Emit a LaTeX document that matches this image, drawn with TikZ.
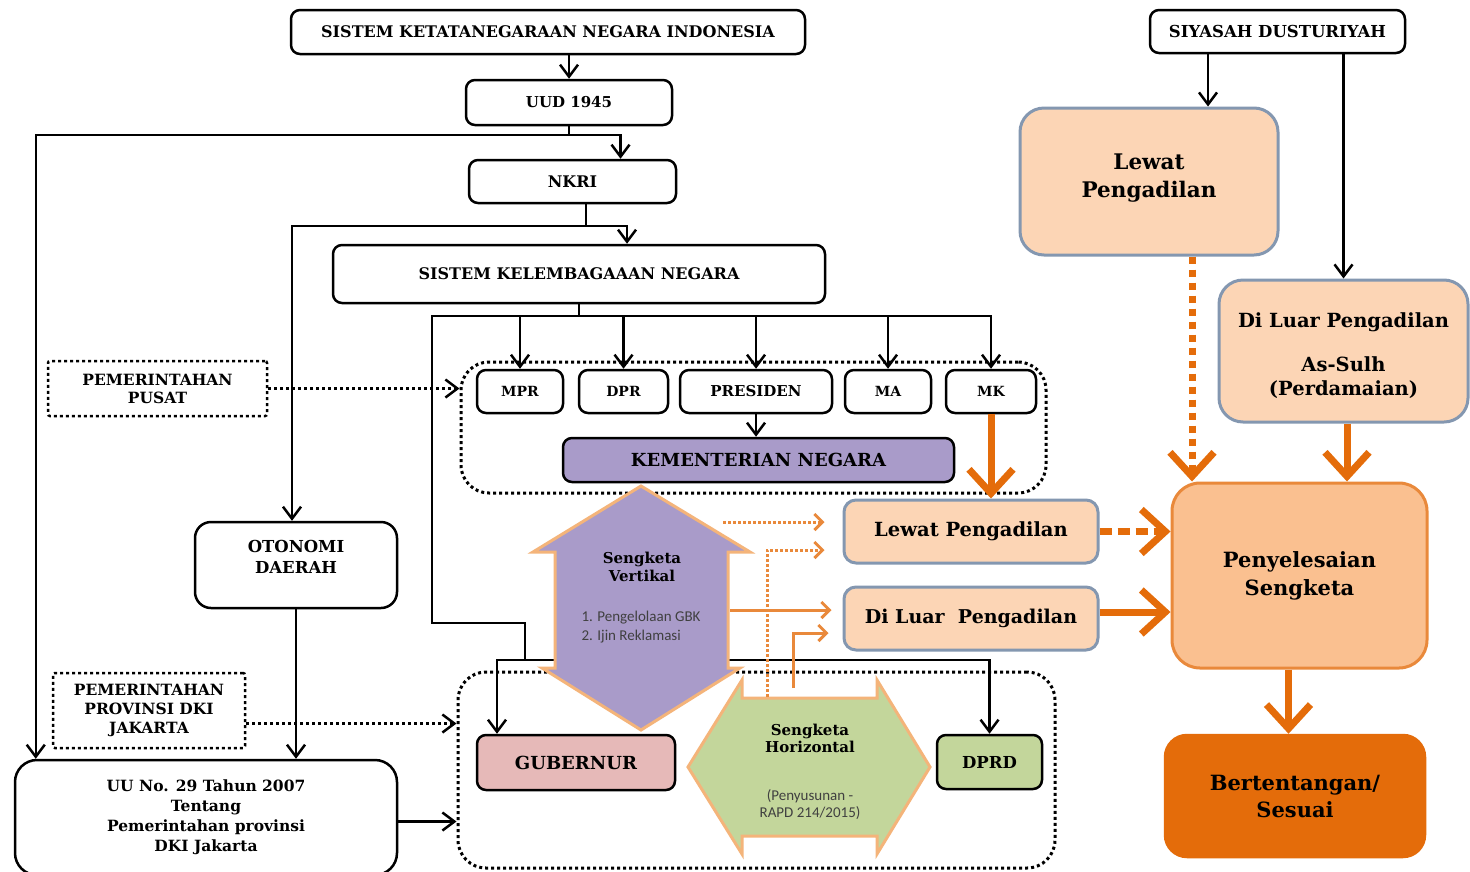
\documentclass[tikz,border=0pt]{standalone}
\usepackage{fontspec}
\setmainfont{DejaVu Serif}
\setsansfont{Carlito}
\usetikzlibrary{arrows.meta}

\definecolor{peach}{HTML}{FCD5B5}
\definecolor{slate}{HTML}{8497B0}
\definecolor{lila}{HTML}{A99BC9}
\definecolor{rosa}{HTML}{E6B9B8}
\definecolor{hijau}{HTML}{C3D69B}
\definecolor{jingga}{HTML}{E46C0A}
\definecolor{jinggamuda}{HTML}{FAC090}
\definecolor{cahaya}{HTML}{F4B47A}
\newcommand{\uk}[2]{\fontsize{#1}{#2}\selectfont}

\begin{document}
\begin{tikzpicture}[x=1pt,y=-1pt,
  kotak/.style={draw,line width=2.5pt,rounded corners=9pt,align=center,inner sep=0pt,fill=white},
  titik/.style={kotak,dash pattern=on 3pt off 3pt,rounded corners=2pt},
  wadah/.style={draw,line width=3pt,dash pattern=on 3pt off 3pt,rounded corners=28pt,inner sep=0pt},
  pilihan/.style={kotak,draw=slate,fill=peach,line width=3pt,rounded corners=12pt},
  garis/.style={line width=2.5pt},
  panah/.style={garis,-{Straight Barb[length=12pt,width=18pt]}},
  panahtitik/.style={panah,dash pattern=on 3pt off 3pt},
  oranye/.style={draw=jingga,line width=7pt,-{Straight Barb[length=24pt,width=44pt]}},
  oranyeputus/.style={oranye,dash pattern=on 7pt off 6pt},
  tipis/.style={draw=jingga!80,line width=3pt,-{Straight Barb[length=8pt,width=16pt]}},
  tipistitik/.style={tipis,dash pattern=on 3pt off 2pt}]

\path[use as bounding box,fill=white] (0,0) rectangle (1470,871);

\node[wadah,minimum width=585pt,minimum height=131pt] (pusatbox) at (753.5,427.5) {};
\node[wadah,minimum width=597pt,minimum height=196pt] (daerahbox) at (756.5,770) {};

\node[kotak,minimum width=514pt,minimum height=44pt,font=\bfseries\uk{16}{19}] (ksn) at (548,32) {SISTEM KETATANEGARAAN NEGARA INDONESIA};
\node[kotak,minimum width=206pt,minimum height=45pt,font=\bfseries\uk{15}{18}] (uud) at (569,102.5) {UUD 1945};
\node[kotak,minimum width=207pt,minimum height=43pt,font=\bfseries\uk{16}{19}] (nkri) at (572.5,181.5) {NKRI};
\node[kotak,minimum width=492pt,minimum height=58pt,font=\bfseries\uk{16}{19}] (skn) at (579,274) {SISTEM KELEMBAGAAAN NEGARA};

\node[kotak,minimum width=86pt,minimum height=43pt,font=\bfseries\uk{14}{17}] (mpr) at (520,391.5) {MPR};
\node[kotak,minimum width=89pt,minimum height=43pt,font=\bfseries\uk{14}{17}] (dpr) at (623.5,391.5) {DPR};
\node[kotak,minimum width=152pt,minimum height=43pt,font=\bfseries\uk{15}{18}] (pres) at (756,391.5) {PRESIDEN};
\node[kotak,minimum width=86pt,minimum height=43pt,font=\bfseries\uk{14}{17}] (ma) at (888,391.5) {MA};
\node[kotak,minimum width=90pt,minimum height=43pt,font=\bfseries\uk{14}{17}] (mk) at (991,391.5) {MK};
\node[kotak,fill=lila,minimum width=391pt,minimum height=44pt,font=\bfseries\uk{18}{21}] (kem) at (758.5,460) {KEMENTERIAN NEGARA};

\node[titik,minimum width=219pt,minimum height=55pt,font=\bfseries\uk{15.5}{18}] (pempusat) at (157.5,388.5) {PEMERINTAHAN\\PUSAT};
\node[kotak,minimum width=202pt,minimum height=86pt,rounded corners=16pt,font=\bfseries\uk{16.5}{21},text depth=16pt] (otda) at (296,565) {OTONOMI\\DAERAH};
\node[titik,minimum width=192pt,minimum height=75pt,font=\bfseries\uk{15.5}{19}] (pemprov) at (149,710.5) {PEMERINTAHAN\\PROVINSI DKI\\JAKARTA};
\node[kotak,minimum width=382pt,minimum height=115pt,rounded corners=22pt,font=\bfseries\uk{15.5}{20}] (uu) at (206,817.5) {UU No. 29 Tahun 2007\\Tentang\\Pemerintahan provinsi\\DKI Jakarta};

\node[kotak,fill=rosa,minimum width=198pt,minimum height=55pt,font=\bfseries\uk{18}{21}] (gub) at (576,762.5) {GUBERNUR};
\node[kotak,fill=hijau,minimum width=105pt,minimum height=54pt,font=\bfseries\uk{16.5}{19}] (dprd) at (989.5,762) {DPRD};

\node[pilihan,minimum width=254pt,minimum height=63pt,font=\bfseries\uk{19.5}{22}] (lewat1) at (971,531.5) {Lewat Pengadilan};
\node[pilihan,minimum width=254pt,minimum height=63pt,font=\bfseries\uk{19}{22}] (luar1) at (971,618.5) {Di Luar~ Pengadilan};

\node[kotak,minimum width=255pt,minimum height=43pt,font=\bfseries\uk{16.5}{19}] (siyasah) at (1277.5,31.5) {SIYASAH DUSTURIYAH};
\node[pilihan,minimum width=258pt,minimum height=147pt,rounded corners=24pt,font=\bfseries\uk{21.5}{28},text depth=12pt] (lewat2) at (1149,181.5) {Lewat\\Pengadilan};
\node[pilihan,minimum width=249pt,minimum height=142pt,rounded corners=24pt,font=\bfseries\uk{19.5}{24},text height=93pt] (luar2) at (1343.5,351) {Di Luar Pengadilan\\[20pt]As-Sulh\\(Perdamaian)};
\node[kotak,draw=jingga!80,fill=jinggamuda,line width=3pt,minimum width=255pt,minimum height=185pt,rounded corners=28pt,font=\bfseries\uk{21}{28}] (penye) at (1299.5,575.5) {Penyelesaian\\Sengketa};
\node[kotak,draw=jingga,fill=jingga,minimum width=260pt,minimum height=122pt,rounded corners=22pt,font=\bfseries\uk{21}{27}] (bert) at (1295,796) {Bertentangan/\\Sesuai};

\coordinate (c1) at (569,135);
\coordinate (c2) at (586,226);
\coordinate (c3) at (579,316);
\coordinate (c4) at (432,623);
\coordinate (c5) at (525,660);

\draw[panah] (ksn.south -| uud.north) -- (uud.north);
\draw[garis] (uud.south) -- (c1);
\draw[panah] (c1) -| ([xshift=48pt]nkri.north);
\draw[panah] (c1) -| ([xshift=22pt]uu.north west);
\draw[garis] (nkri.south -| c2) -- (c2);
\draw[panah] (c2) -| ([xshift=48pt]skn.north);
\draw[panah] (c2) -| ([xshift=-4pt]otda.north);
\draw[garis] (skn.south) -- (c3);
\foreach \n in {mpr,dpr,pres,ma,mk}
  \draw[panah] (c3) -| (\n.north);
\draw[garis] (c3) -| (c4) -| (c5);
\draw[panah] (c5) -| ([xshift=-79pt]gub.north);
\draw[panah] (c5) -| (dprd.north);
\draw[panah] (pres.south) -- (pres.south |- kem.north);
\draw[panahtitik] (pempusat.east) -- (pempusat.east -| pusatbox.west);
\draw[panah] (otda.south) -- (otda.south |- uu.north);
\draw[panahtitik] ([yshift=-13pt]pemprov.east) -- ([yshift=-13pt]pemprov.east -| daerahbox.west);
\draw[panah] ([yshift=-4pt]uu.east) -- ([yshift=-4pt]uu.east -| daerahbox.west);
\draw[panah] ([xshift=-69.5pt]siyasah.south) -- ([xshift=-69.5pt]siyasah.south |- lewat2.north);
\draw[panah] (siyasah.south -| luar2.north) -- (luar2.north);

\draw[draw=cahaya,line width=3pt,fill=lila] (641,486) -- (533,552) -- (555,552) -- (555,668) -- (542,668) -- (641,730)
  -- (740,668) -- (728,668) -- (728,552) -- (750,552) -- cycle;
\draw[draw=cahaya,line width=3pt,fill=hijau] (688,767) -- (742,680) -- (742,698) -- (877,698) -- (877,680) -- (930,767)
  -- (877,854) -- (877,836) -- (742,836) -- (742,854) -- cycle;
\node[align=center,font=\bfseries\uk{15}{18}] (vert) at (642,567) {Sengketa\\Vertikal};
\node[align=left,font=\sffamily\uk{15}{19},text=black!75] (vertisi) at (641,627) {1. Pengelolaan GBK\\2. Ijin Reklamasi};
\node[align=center,font=\bfseries\uk{15}{17}] (horz) at (810,738) {Sengketa\\Horizontal};
\node[align=center,font=\sffamily\uk{15}{17},text=black!75] (horzisi) at (810,805) {(Penyusunan -\\RAPD 214/2015)};

\coordinate (v1) at (723,522);
\coordinate (v2) at (730,610);
\coordinate (h1) at (767,697);
\coordinate (h2) at (793,688);
\draw[tipistitik,shorten >=18pt] (v1) -- (v1 -| lewat1.west);
\draw[tipistitik,shorten >=18pt] (h1) |- ([yshift=-18.5pt]lewat1.west);
\draw[tipis,shorten >=11pt] (v2) -- (v2 -| luar1.west);
\draw[tipis,shorten >=14pt] (h2) |- ([yshift=-14.5pt]luar1.west);

\draw[oranye] (mk.south) -- (mk.south |- lewat1.north);
\draw[oranyeputus] ([xshift=43pt]lewat2.south) -- ([xshift=43pt]lewat2.south |- penye.north);
\draw[oranye] ([xshift=3.5pt]luar2.south) -- ([xshift=3.5pt]luar2.south |- penye.north);
\draw[oranye,dash pattern=on 12pt off 6pt] (lewat1.east) -- (lewat1.east -| penye.west);
\draw[oranye] ([yshift=6.5pt]luar1.east) -- ([yshift=6.5pt]luar1.east -| penye.west);
\draw[oranye] ([xshift=-11pt]penye.south) -- ([xshift=-11pt]penye.south |- bert.north);
\end{tikzpicture}
\end{document}
